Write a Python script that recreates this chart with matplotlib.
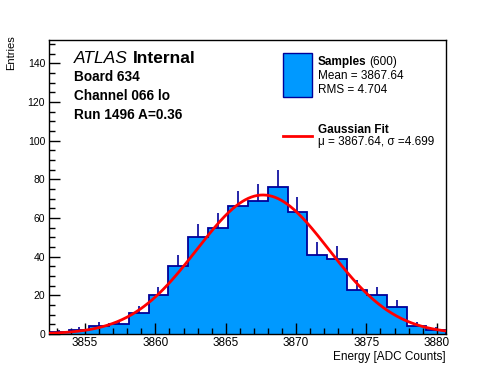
import numpy as np
import matplotlib
matplotlib.use('Agg')
import matplotlib.pyplot as plt
from matplotlib.ticker import MultipleLocator

plt.rcParams['font.family'] = ['Liberation Sans', 'DejaVu Sans']

# histogram contents (20 equal bins over the axis range)
x_lo = 3852.46
x_hi = 3880.68
counts = [1, 2, 4, 5, 11, 20, 35, 50, 55, 66, 69, 76, 63, 41, 39, 23, 20, 14, 4, 2]

# fit parameters
n_entries = 600
mean = 3867.64
rms = 4.704
mu = 3867.64
sigma = 4.699

fill_col = '#0099ff'
edge_col = '#000099'

W, H = 496, 372
fig = plt.figure(figsize=(W/100, H/100), dpi=100)
ax = fig.add_axes([49.3/W, 1-334/H, (446.3-49.3)/W, (334-40)/H])

counts = np.array(counts, dtype=float)
edges = np.linspace(x_lo, x_hi, len(counts)+1)
centers = 0.5*(edges[:-1]+edges[1:])
bw = edges[1]-edges[0]

ax.stairs(counts, edges, fill=True, color=fill_col, zorder=1)
ax.stairs(counts, edges, color=edge_col, lw=1.3, zorder=2)
ax.vlines(centers, counts, counts+np.sqrt(counts), color=edge_col, lw=1.2, zorder=2)

xs = np.linspace(x_lo, x_hi, 400)
amp = n_entries*bw/(sigma*np.sqrt(2*np.pi))
ax.plot(xs, amp*np.exp(-0.5*((xs-mu)/sigma)**2), color='red', lw=2, zorder=3)

ax.set_xlim(x_lo, x_hi)
ax.set_ylim(0, 152)
ax.xaxis.set_major_locator(MultipleLocator(5))
ax.xaxis.set_minor_locator(MultipleLocator(1))
ax.yaxis.set_major_locator(MultipleLocator(20))
ax.yaxis.set_minor_locator(MultipleLocator(5))
ax.tick_params(which='both', direction='in', top=False, right=False, width=1)
ax.tick_params(which='major', length=8)
ax.tick_params(which='minor', length=4)
ax.tick_params(axis='x', labelsize=8.5, pad=2)
ax.tick_params(axis='y', labelsize=7.5, pad=3)
for s in ax.spines.values():
    s.set_linewidth(1)

fig.text(446/W, 1-360/H, 'Energy [ADC Counts]', ha='right', va='baseline', fontsize=8.5)
fig.text(11/W, 1-35/H, 'Entries', ha='center', va='top', rotation=90, fontsize=8)

def px(x, y):
    return x/W, 1-y/H

fig.text(*px(74, 63), 'ATLAS', fontsize=12.5, style='italic', va='baseline')
fig.text(*px(133, 63), 'Internal', fontsize=12.5, weight='bold', va='baseline')
fig.text(*px(74, 81), 'Board 634', fontsize=9.8, weight='bold', va='baseline')
fig.text(*px(74, 100), 'Channel 066 lo', fontsize=9.8, weight='bold', va='baseline')
fig.text(*px(74, 119), 'Run 1496 A=0.36', fontsize=9.8, weight='bold', va='baseline')

# legend
ax.add_patch(plt.Rectangle(px(283, 97), 29/W, 44/H, transform=fig.transFigure,
                           facecolor=fill_col, edgecolor=edge_col, lw=1, clip_on=False))
fig.text(*px(318, 65), 'Samples', fontsize=8.5, weight='bold', va='baseline')
fig.text(*px(369, 65), '(600)', fontsize=8.5, va='baseline')
fig.text(*px(318, 79), 'Mean = %.2f' % mean, fontsize=8.5, va='baseline')
fig.text(*px(318, 93), 'RMS = %.3f' % rms, fontsize=8.5, va='baseline')
fig.add_artist(plt.Line2D([283/W, 312/W], [1-136/H, 1-136/H], color='red', lw=2))
fig.text(*px(318, 133), 'Gaussian Fit', fontsize=8.5, weight='bold', va='baseline')
fig.text(*px(318, 145), 'μ = %.2f, σ =%.3f' % (mu, sigma), fontsize=8.5, va='baseline')

fig.savefig('out.png', dpi=100)
